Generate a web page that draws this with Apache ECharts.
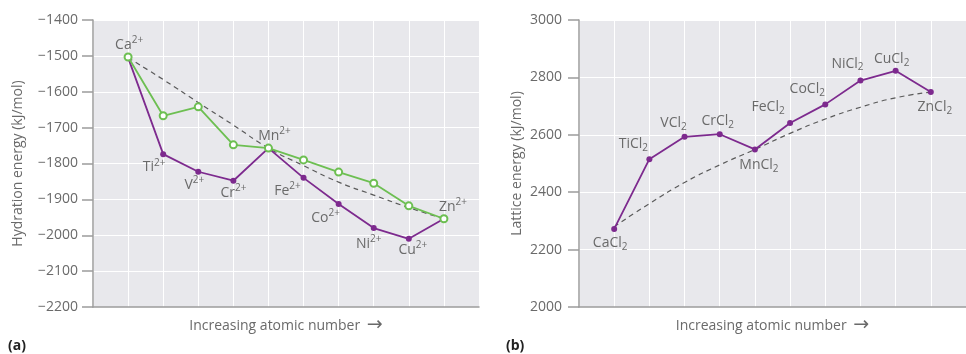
<!DOCTYPE html>
<html><head><meta charset="utf-8">
<script src="https://cdn.jsdelivr.net/npm/echarts@6/dist/echarts.min.js"></script>
<style>html,body{margin:0;padding:0;background:#fff}#c{width:966px;height:354px}</style>
</head><body><div id="c"></div>
<script>
// ---- data ----
const ions = ['Ca','Ti','V','Cr','Mn','Fe','Co','Ni','Cu','Zn'];
const hydrationObserved = [-1505,-1774,-1823,-1848,-1757,-1840,-1913,-1980,-2010,-1954];
const hydrationExpected = [-1503,-1667,-1642,-1748,-1757,-1790,-1824,-1855,-1918,-1954];
const hydrationTrend = [-1505,-1566,-1630,-1693,-1757,-1806,-1852,-1888,-1923,-1954];
const latticeEnergy = [2272,2515,2593,2602,2549,2641,2706,2789,2823,2749];
const latticeTrend = [2280,2360,2434,2495,2549,2605,2655,2696,2729,2749];
const hydrationTicks = [-2200,-2100,-2000,-1900,-1800,-1700,-1600,-1500,-1400];
const latticeTicks = [2000,2200,2400,2600,2800,3000];

// ---- label placement (styling) ----
const ionLabelOffsets = [[1,-13],[-9,13],[-4,13],[0,12],[6,-12],[-16,13],[-13,14],[-5,16],[4,11],[9,-12]];
const saltLabelOffsets = [[-4,14],[-16,-15],[-11,-14],[-2,-13],[4,16],[-22,-16],[-18,-15],[-13,-17],[-4,-12],[4,15]];

const PURPLE = '#7d2a8e', GREEN = '#6dbf52', GREY_TXT = '#6a6a6a', AXIS = '#9c9c9c', BG = '#e8e8ec';
const FONT = 'Open Sans';
const rich = {
  b: {fontSize: 14, color: GREY_TXT, fontFamily: FONT},
  sup: {fontSize: 10, color: GREY_TXT, fontFamily: FONT, padding: [0,0,9,0]},
  sub: {fontSize: 10, color: GREY_TXT, fontFamily: FONT, padding: [8,0,0,0]}
};

function xAxis(gi) {
  return {
    gridIndex: gi, type: 'value', min: -1, max: 10, interval: 1,
    axisLabel: {show: false}, axisTick: {show: false},
    axisLine: {onZero: false, lineStyle: {color: AXIS, width: 1.5}},
    splitLine: {show: true, showMaxLine: false, lineStyle: {color: '#ffffff', width: 1}},
    name: '{t|Increasing atomic number}  {a|\u2192}', nameLocation: 'middle', nameGap: 9,
    nameTextStyle: {rich: {
      t: {fontSize: 14, color: GREY_TXT, fontFamily: FONT},
      a: {fontSize: 19, color: GREY_TXT, fontFamily: 'DejaVu Sans', padding: [0,0,2,0]}
    }}
  };
}
function yAxis(gi, ticks, name, gap, margin, fmt) {
  return {
    gridIndex: gi, type: 'value', min: ticks[0], max: ticks[ticks.length-1], interval: ticks[1]-ticks[0],
    axisLine: {show: true, onZero: false, lineStyle: {color: AXIS, width: 1.5}},
    axisTick: {show: true, length: 11, lineStyle: {color: AXIS, width: 1.5}},
    axisLabel: {margin: margin, fontSize: 14, color: GREY_TXT, fontFamily: FONT, formatter: fmt},
    splitLine: {show: true, lineStyle: {color: '#ffffff', width: 1}},
    name: name, nameLocation: 'middle', nameGap: gap, nameRotate: 90,
    nameTextStyle: {fontSize: 14, color: GREY_TXT, fontFamily: FONT}
  };
}

const hydData = hydrationObserved.map((v,i) => ({
  value: [i, v],
  label: {show: true, position: 'inside', offset: ionLabelOffsets[i],
    formatter: '{b|' + ions[i] + '}{sup|2+}', rich: rich}
}));
const latData = latticeEnergy.map((v,i) => ({
  value: [i, v],
  label: {show: true, position: 'inside', offset: saltLabelOffsets[i],
    formatter: '{b|' + ions[i] + 'Cl}{sub|2}', rich: rich}
}));

const option = {
  animation: false,
  grid: [
    {left: 93, top: 20, width: 386, height: 287, show: true, backgroundColor: BG, borderWidth: 0},
    {left: 579, top: 20, width: 397, height: 287, show: true, backgroundColor: BG, borderWidth: 0}
  ],
  xAxis: [xAxis(0), xAxis(1)],
  yAxis: [
    yAxis(0, hydrationTicks, 'Hydration energy (kJ/mol)', 68, 15, v => String(v).replace('-', '\u2212')),
    yAxis(1, latticeTicks, 'Lattice energy (kJ/mol)', 55, 17, v => String(v))
  ],
  series: [
    {type: 'line', xAxisIndex: 0, yAxisIndex: 0, data: hydrationTrend.map((v,i)=>[i,v]), smooth: true,
      showSymbol: false, lineStyle: {color: '#5a5a5a', width: 1.2, type: [5,4]}, z: 1, silent: true},
    {type: 'line', xAxisIndex: 0, yAxisIndex: 0, data: hydData, symbol: 'circle', symbolSize: 6,
      itemStyle: {color: PURPLE}, lineStyle: {color: PURPLE, width: 1.8}, z: 2},
    {type: 'line', xAxisIndex: 0, yAxisIndex: 0, data: hydrationExpected.map((v,i)=>[i,v]), symbol: 'emptyCircle', symbolSize: 7,
      itemStyle: {color: GREEN, borderWidth: 1.4, borderColor: GREEN}, lineStyle: {color: GREEN, width: 1.8}, z: 3},
    {type: 'line', xAxisIndex: 1, yAxisIndex: 1, data: latticeTrend.map((v,i)=>[i,v]), smooth: true,
      showSymbol: false, lineStyle: {color: '#5a5a5a', width: 1.2, type: [5,4]}, z: 1, silent: true},
    {type: 'line', xAxisIndex: 1, yAxisIndex: 1, data: latData, symbol: 'circle', symbolSize: 6,
      itemStyle: {color: PURPLE}, lineStyle: {color: PURPLE, width: 1.8}, z: 2}
  ],
  graphic: [
    {type: 'text', left: 8, top: 339, style: {text: '(a)', font: 'bold 14px "Open Sans"', fill: '#222'}},
    {type: 'text', left: 506, top: 339, style: {text: '(b)', font: 'bold 14px "Open Sans"', fill: '#222'}}
  ]
};
const chart = echarts.init(document.getElementById('c'), null, {renderer: 'canvas'});
chart.setOption(option);
</script></body></html>
